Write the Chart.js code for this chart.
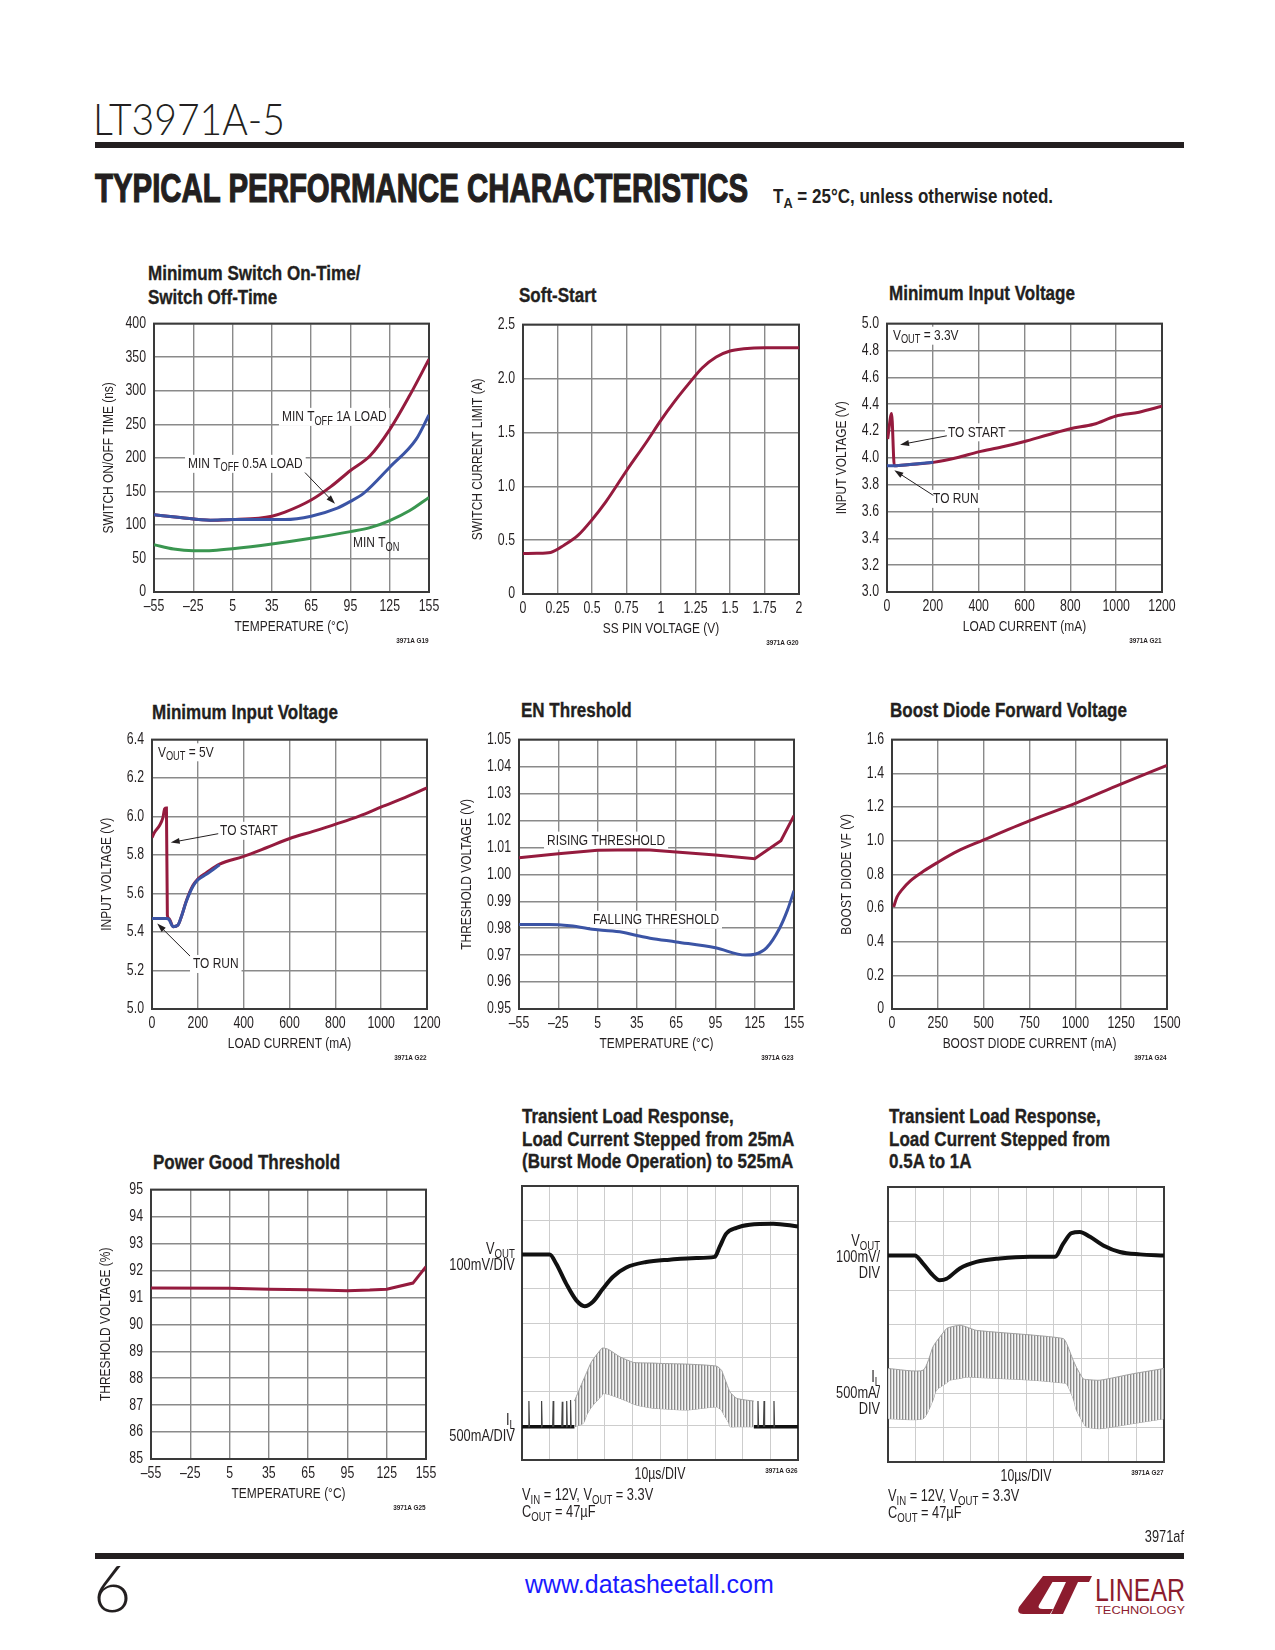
<!DOCTYPE html>
<html>
<head>
<meta charset="utf-8">
<title>LT3971A-5 Typical Performance Characteristics</title>
<script src="https://cdn.jsdelivr.net/npm/chart.js@4.4.1/dist/chart.umd.min.js"></script>
<style>
  body { margin: 0; background: #fff; }
  #page { position: relative; width: 1275px; height: 1650px; overflow: hidden; color: #231f20;
          font-family: 'Liberation Sans', Arial, sans-serif; }
  #page canvas { position: absolute; }
  .abs { position: absolute; white-space: nowrap; }
  .cl { transform-origin: 0 0; }
  .cr { transform-origin: 100% 0; text-align: right; }
  .ttl { font-weight: bold; font-size: 20.5px; line-height: 24px; transform: scaleX(0.83); -webkit-text-stroke: 0.35px #231f20; }
  .stl { font-weight: bold; font-size: 20.5px; line-height: 22.5px; transform: scaleX(0.83); -webkit-text-stroke: 0.35px #231f20; }
  .fid { font-weight: bold; font-size: 8px; line-height: 8px; transform: scaleX(0.8); }
  .lbl { font-size: 16px; line-height: 16px; transform: scaleX(0.8); }
  .note { font-size: 16px; line-height: 17px; transform: scaleX(0.8); }
  sub { font-size: 75%; vertical-align: -0.3em; line-height: 0; }
  .bar { position: absolute; left: 95px; width: 1089px; height: 6px; background: #231f20; }
</style>
</head>
<body>
<div id="page">
  <div class="abs" id="part" style="left:93px; top:94px; font-family: Lato, 'Open Sans', sans-serif; font-weight:300; font-size:44px; line-height:48px;">LT3971A-5</div>
  <div class="bar" style="top:142px;"></div>
  <div class="abs" id="tpc" style="left:95px; top:168px; font-weight:bold; font-size:40px; line-height:40px; transform-origin:0 0; -webkit-text-stroke: 1.2px #231f20;">TYPICAL PERFORMANCE CHARACTERISTICS</div>
  <div class="abs cl" style="left:773px; top:186px; font-weight:bold; font-size:20px; line-height:20px; transform: scaleX(0.85);">T<sub>A</sub> = 25°C, unless otherwise noted.</div>

  <div class="abs ttl cl" style="left:148px; top:261px;">Minimum Switch On-Time/<br>Switch Off-Time</div>
  <div class="abs ttl cl" style="left:519px; top:283px;">Soft-Start</div>
  <div class="abs ttl cl" style="left:889px; top:281px;">Minimum Input Voltage</div>
  <div class="abs ttl cl" style="left:152px; top:700px;">Minimum Input Voltage</div>
  <div class="abs ttl cl" style="left:521px; top:698px;">EN Threshold</div>
  <div class="abs ttl cl" style="left:890px; top:698px;">Boost Diode Forward Voltage</div>
  <div class="abs ttl cl" style="left:153px; top:1150px;">Power Good Threshold</div>
  <div class="abs stl cl" style="left:522px; top:1105px;">Transient Load Response,<br>Load Current Stepped from 25mA<br>(Burst Mode Operation) to 525mA</div>
  <div class="abs stl cl" style="left:889px; top:1105px;">Transient Load Response,<br>Load Current Stepped from<br>0.5A to 1A</div>

  <canvas id="c1"></canvas>
  <canvas id="c2"></canvas>
  <canvas id="c3"></canvas>
  <canvas id="c4"></canvas>
  <canvas id="c5"></canvas>
  <canvas id="c6"></canvas>
  <canvas id="c7"></canvas>
  <canvas id="s1"></canvas>
  <canvas id="s2"></canvas>

  <div class="abs fid cr" style="right:846px; top:637px;">3971A G19</div>
  <div class="abs fid cr" style="right:476px; top:639px;">3971A G20</div>
  <div class="abs fid cr" style="right:113px; top:637px;">3971A G21</div>
  <div class="abs fid cr" style="right:848px; top:1054px;">3971A G22</div>
  <div class="abs fid cr" style="right:481px; top:1054px;">3971A G23</div>
  <div class="abs fid cr" style="right:108px; top:1054px;">3971A G24</div>
  <div class="abs fid cr" style="right:849px; top:1504px;">3971A G25</div>
  <div class="abs fid cr" style="right:477px; top:1467px;">3971A G26</div>
  <div class="abs fid cr" style="right:111px; top:1469px;">3971A G27</div>

  <div class="abs lbl cr" style="right:760px; top:1241px;">V<sub>OUT</sub><br>100mV/DIV</div>
  <div class="abs lbl cr" style="right:760px; top:1412px;">I<sub>L</sub><br>500mA/DIV</div>
  <div class="abs note cl" style="left:522px; top:1486px;">V<sub>IN</sub> = 12V, V<sub>OUT</sub> = 3.3V<br>C<sub>OUT</sub> = 47µF</div>
  <div class="abs lbl cr" style="right:395px; top:1233px;">V<sub>OUT</sub><br>100mV/<br>DIV</div>
  <div class="abs lbl cr" style="right:395px; top:1369px;">I<sub>L</sub><br>500mA/<br>DIV</div>
  <div class="abs note cl" style="left:888px; top:1487px;">V<sub>IN</sub> = 12V, V<sub>OUT</sub> = 3.3V<br>C<sub>OUT</sub> = 47µF</div>

  <div class="abs cr" style="right:91px; top:1529px; font-size:16px; line-height:16px; transform: scaleX(0.8);">3971af</div>
  <div class="bar" style="top:1553px;"></div>
  <div class="abs" style="left:93px; top:1554px; font-family: Lato, 'Open Sans', sans-serif; font-weight:300; font-size:66px; line-height:66px;">6</div>
  <div class="abs" style="left:525px; top:1570px; font-size:25px; line-height:28px; color:#1a1aff;">www.datasheetall.com</div>
  <svg class="abs" style="left:1016px; top:1574px;" width="172" height="44" viewBox="0 0 172 44">
    <path d="M27,2 L40,2 L23,31 Q21,35 27,35 L37,35 L34,40 L7,40 Q0,40 3,33 Z" fill="#8c1c2e"/>
    <path d="M38,2 L76,2 L73,8 L62,8 L47,40 L35,40 L50,8 L35,8 Z" fill="#8c1c2e"/>
    <text x="79" y="27" font-family="'Liberation Sans', sans-serif" font-size="31" fill="#8c1c2e" textLength="90" lengthAdjust="spacingAndGlyphs">LINEAR</text>
    <text x="79" y="40" font-family="'Liberation Sans', sans-serif" font-size="11" fill="#8c1c2e" textLength="90" lengthAdjust="spacingAndGlyphs">TECHNOLOGY</text>
  </svg>
</div>

<script>
// Minimum switch on-time / off-time
const tempTicks = [-55, -25, 5, 35, 65, 95, 125, 155];
const tempLabels = ['–55', '–25', '5', '35', '65', '95', '125', '155'];
const swTimeTicks = [0, 50, 100, 150, 200, 250, 300, 350, 400];
const toff1aTemp = [-55, -35, -12, 5, 25, 35, 45, 65, 80, 95, 110, 125, 140, 155];
const toff1aNs = [115, 111, 107, 108, 110, 113, 119, 137, 157, 181, 203, 242, 292, 347];
const toff05aTemp = [-55, -35, -12, 5, 25, 45, 65, 85, 95, 105, 125, 145, 155];
const toff05aNs = [115, 111, 107, 108, 108, 108, 113, 125, 135, 147, 186, 227, 264];
const tonTemp = [-55, -40, -25, -10, 5, 35, 65, 95, 110, 125, 140, 155];
const tonNs = [70.5, 64, 61.5, 62, 64.5, 71.5, 80, 90, 96, 106.5, 121, 141];

// Soft-start
const ssTicks = [0, 0.25, 0.5, 0.75, 1, 1.25, 1.5, 1.75, 2];
const ssLabels = ['0', '0.25', '0.5', '0.75', '1', '1.25', '1.5', '1.75', '2'];
const ssLimTicks = [0, 0.5, 1, 1.5, 2, 2.5];
const ssLimLabels = ['0', '0.5', '1.0', '1.5', '2.0', '2.5'];
const ssPinV = [0, 0.1, 0.2, 0.3, 0.4, 0.5, 0.6, 0.75, 0.9, 1.0, 1.1, 1.2, 1.3, 1.4, 1.5, 1.6, 1.75, 2.0];
const ssLimitA = [0.375, 0.377, 0.385, 0.455, 0.546, 0.689, 0.855, 1.144, 1.42, 1.614, 1.79, 1.95, 2.10, 2.20, 2.255, 2.275, 2.285, 2.285];

// Minimum input voltage, VOUT = 3.3V
const loadTicks = [0, 200, 400, 600, 800, 1000, 1200];
const vin33Ticks = [3.0, 3.2, 3.4, 3.6, 3.8, 4.0, 4.2, 4.4, 4.6, 4.8, 5.0];
const start33Load = [3, 20, 32, 100, 202, 304, 399, 500, 596, 700, 800, 902, 997, 1100, 1200];
const start33V = [4.14, 4.33, 3.94, 3.95, 3.966, 4.0, 4.044, 4.08, 4.12, 4.17, 4.217, 4.25, 4.31, 4.34, 4.384];
const run33Load = [0, 32, 100, 202];
const run33V = [3.94, 3.94, 3.95, 3.966];

// Minimum input voltage, VOUT = 5V
const vin5Ticks = [5.0, 5.2, 5.4, 5.6, 5.8, 6.0, 6.2, 6.4];
const start5Load = [0, 12, 33, 48, 55, 63, 67, 74, 92, 113, 128, 150, 179, 201, 237, 295, 397, 499, 601, 703, 805, 907, 1001, 1103, 1200];
const start5V = [5.891, 5.92, 5.954, 5.996, 6.04, 6.044, 5.487, 5.47, 5.428, 5.436, 5.479, 5.563, 5.643, 5.677, 5.708, 5.753, 5.792, 5.838, 5.886, 5.923, 5.962, 6.004, 6.05, 6.098, 6.149];
const run5Load = [0, 63, 74, 92, 113, 128, 150, 179, 201, 237, 295];
const run5V = [5.47, 5.47, 5.465, 5.428, 5.436, 5.479, 5.56, 5.638, 5.672, 5.70, 5.75];

// EN threshold
const enTicks = [0.95, 0.96, 0.97, 0.98, 0.99, 1.00, 1.01, 1.02, 1.03, 1.04, 1.05];
const riseTemp = [-55, -25, 5, 35, 45, 65, 95, 125, 145, 155];
const riseV = [1.0061, 1.0076, 1.0089, 1.0091, 1.009, 1.0083, 1.0072, 1.0058, 1.0125, 1.0218];
const fallTemp = [-55, -32, -16, 5, 24, 35, 45, 65, 95, 118, 125, 134, 144, 150, 155];
const fallV = [0.9814, 0.9814, 0.9809, 0.9794, 0.9785, 0.9773, 0.9763, 0.9749, 0.9727, 0.9700, 0.9703, 0.9727, 0.9800, 0.9867, 0.9939];

// Boost diode forward voltage
const diodeTicks = [0, 250, 500, 750, 1000, 1250, 1500];
const vfTicks = [0, 0.2, 0.4, 0.6, 0.8, 1.0, 1.2, 1.4, 1.6];
const vfLabels = ['0', '0.2', '0.4', '0.6', '0.8', '1.0', '1.2', '1.4', '1.6'];
const diodeMa = [9, 27, 55, 100, 173, 245, 355, 500, 755, 1000, 1245, 1500];
const diodeVf = [0.606, 0.664, 0.709, 0.761, 0.819, 0.868, 0.936, 1.004, 1.12, 1.221, 1.334, 1.447];

// Power good threshold
const pgTicks = [85, 86, 87, 88, 89, 90, 91, 92, 93, 94, 95];
const pgTemp = [-55, 5, 35, 65, 95, 112, 125, 145, 155];
const pgPct = [91.35, 91.34, 91.30, 91.28, 91.25, 91.27, 91.30, 91.53, 92.14];

// Scope captures, in divisions (10 x 8 graticule)
const divX = [0, 1, 2, 3, 4, 5, 6, 7, 8, 9, 10];
const divY = [0, 1, 2, 3, 4, 5, 6, 7, 8];
const s1VoutT = [0, 1.0, 1.24, 1.6, 1.97, 2.27, 2.57, 2.93, 3.3, 3.78, 4.5, 5.35, 6.32, 6.98, 7.16, 7.4, 7.77, 8.25, 9.1, 10];
const s1VoutDiv = [6.0, 6.0, 5.73, 5.15, 4.66, 4.49, 4.62, 5.0, 5.35, 5.62, 5.78, 5.85, 5.9, 5.93, 6.22, 6.61, 6.78, 6.87, 6.9, 6.82];
const s1BaseT = [0, 1.9, 8.4, 10];
const s1BaseDiv = [0.97, 0.97, 0.97, 0.97];
const s1EnvT = [1.9, 2.22, 2.34, 2.52, 2.89, 2.95, 3.13, 3.55, 4.03, 4.16, 4.76, 5.0, 5.97, 7.05, 7.23, 7.29, 7.48, 7.54, 7.78, 8.4];
const s1EnvHi = [1.72, 2.33, 2.55, 2.87, 3.26, 3.27, 3.23, 3.01, 2.85, 2.84, 2.83, 2.82, 2.80, 2.74, 2.62, 2.50, 2.09, 1.98, 1.80, 1.72];
const s1EnvLo = [0.97, 1.07, 1.31, 1.55, 1.88, 1.94, 1.92, 1.80, 1.64, 1.60, 1.51, 1.50, 1.46, 1.55, 1.45, 1.36, 1.10, 0.97, 0.97, 0.97];
const s1SpikeT = [0.25, 0.71, 1.13, 1.46, 1.62, 1.76, 8.55, 8.77, 9.13];
const s1SpikePeak = [1.72, 1.72, 1.72, 1.70, 1.72, 1.75, 1.72, 1.72, 1.72];
const s2VoutT = [0, 0.97, 1.27, 1.63, 1.87, 2.12, 2.6, 3.2, 4.05, 5.14, 6.05, 6.35, 6.65, 6.95, 7.32, 7.8, 8.4, 9.13, 10];
const s2VoutDiv = [6.01, 6.01, 5.77, 5.43, 5.29, 5.33, 5.63, 5.82, 5.92, 5.97, 5.97, 6.35, 6.66, 6.69, 6.55, 6.3, 6.11, 6.04, 6.01];
const s2EnvT = [0, 1.27, 1.63, 1.75, 2.12, 2.24, 2.6, 2.84, 3.2, 5.26, 6.35, 6.47, 6.71, 6.83, 7.07, 7.19, 7.68, 8.89, 10];
const s2EnvHi = [2.72, 2.67, 3.35, 3.50, 3.88, 3.92, 3.98, 3.93, 3.83, 3.69, 3.59, 3.45, 2.96, 2.75, 2.42, 2.40, 2.38, 2.57, 2.72];
const s2EnvLo = [1.26, 1.26, 1.80, 2.09, 2.30, 2.38, 2.43, 2.47, 2.46, 2.38, 2.30, 2.28, 1.85, 1.50, 1.15, 1.02, 0.97, 1.12, 1.26];

// ---- styling ----
const SANS = "'Liberation Sans', Arial, sans-serif";
const SQUEEZE = 0.77;   // the datasheet uses a condensed face
const INK = '#231f20';
const RED = '#951b3e';
const BLUE = '#3b54a5';
const GREEN = '#3a9650';

Chart.defaults.font.family = SANS;
Chart.defaults.font.size = 16;
Chart.defaults.color = INK;

function pts(xs, ys) {
    return xs.map((x, i) => ({x: x, y: ys[i]}));
}

function curve(xs, ys, color, extra) {
    return Object.assign({
        data: pts(xs, ys),
        borderColor: color,
        borderWidth: 3,
        pointRadius: 0,
        cubicInterpolationMode: 'monotone',
        fill: false
    }, extra || {});
}

// squeeze all canvas text horizontally
const condensePlugin = {
    id: 'condense',
    beforeInit(chart) {
        const ctx = chart.ctx;
        const fill = ctx.fillText.bind(ctx);
        ctx.fillText = function (text, x, y) {
            ctx.save();
            ctx.translate(x, y);
            ctx.scale(SQUEEZE, 1);
            fill(text, 0, 0);
            ctx.restore();
        };
    }
};

// text with subscripts: parts = [[text, isSub], ...]
function drawParts(ctx, parts, x, y, size, measureOnly) {
    let w = 0;
    parts.forEach(p => {
        ctx.font = (p[1] ? Math.round(size * 0.75) : size) + 'px ' + SANS;
        if (!measureOnly) ctx.fillText(p[0], x + w, y + (p[1] ? size * 0.28 : 0));
        w += ctx.measureText(p[0]).width * SQUEEZE;
    });
    return w;
}

// labels, arrows and the frame of each plot
const notesPlugin = {
    id: 'notes',
    beforeDatasetsDraw(chart, args, opts) {
        const {ctx, chartArea: a, scales: {x, y}} = chart;
        ctx.save();
        (opts.labels || []).forEach(l => {
            if (!l.bg) return;
            const w = drawParts(ctx, l.parts, 0, 0, 15.5, true);
            const px = x.getPixelForValue(l.at[0]), py = y.getPixelForValue(l.at[1]);
            ctx.fillStyle = '#fff';
            ctx.fillRect(px - 3, py - 9, w + 6, 18);
        });
        ctx.strokeStyle = '#3a3a3a';
        ctx.lineWidth = 2;
        ctx.strokeRect(a.left, a.top, a.right - a.left, a.bottom - a.top);
        ctx.restore();
    },
    afterDatasetsDraw(chart, args, opts) {
        const {ctx, scales: {x, y}} = chart;
        ctx.save();
        ctx.strokeStyle = INK;
        ctx.fillStyle = INK;
        ctx.lineWidth = 1;
        (opts.arrows || []).forEach(ar => {
            const x1 = x.getPixelForValue(ar.from[0]), y1 = y.getPixelForValue(ar.from[1]);
            const x2 = x.getPixelForValue(ar.to[0]), y2 = y.getPixelForValue(ar.to[1]);
            const ang = Math.atan2(y2 - y1, x2 - x1);
            ctx.beginPath();
            ctx.moveTo(x1, y1);
            ctx.lineTo(x2 - 7 * Math.cos(ang), y2 - 7 * Math.sin(ang));
            ctx.stroke();
            ctx.beginPath();
            ctx.moveTo(x2, y2);
            ctx.lineTo(x2 - 9 * Math.cos(ang) + 3 * Math.sin(ang), y2 - 9 * Math.sin(ang) - 3 * Math.cos(ang));
            ctx.lineTo(x2 - 9 * Math.cos(ang) - 3 * Math.sin(ang), y2 - 9 * Math.sin(ang) + 3 * Math.cos(ang));
            ctx.closePath();
            ctx.fill();
        });
        ctx.textBaseline = 'middle';
        ctx.textAlign = 'left';
        (opts.labels || []).forEach(l => {
            drawParts(ctx, l.parts, x.getPixelForValue(l.at[0]), y.getPixelForValue(l.at[1]), 15.5, false);
        });
        ctx.restore();
    }
};

function fixedTicks(values) {
    return scale => { scale.ticks = values.map(v => ({value: v})); };
}

// box = plot area on the page
function plotChart(id, box, o) {
    const padL = 70, padT = 12, padR = 30, padB = 56;
    const cv = document.getElementById(id);
    cv.width = (box.r - box.l) + padL + padR;
    cv.height = (box.b - box.t) + padT + padB;
    cv.style.left = (box.l - padL) + 'px';
    cv.style.top = (box.t - padT) + 'px';
    const yW = o.yW, xH = o.xH;
    const gridColor = o.scope ? '#cdcdcd' : '#8a8a8a';
    const gridWidth = o.scope ? 1 : 1.4;
    return new Chart(cv, {
        type: 'line',
        data: {datasets: o.datasets},
        options: {
            responsive: false,
            animation: false,
            events: [],
            layout: {padding: {left: padL - yW, top: padT, right: padR, bottom: padB - xH}},
            plugins: {legend: {display: false}, tooltip: {enabled: false}, notes: o.notes || {}},
            scales: {
                x: {
                    type: 'linear', min: o.x.min, max: o.x.max,
                    afterBuildTicks: fixedTicks(o.x.ticks),
                    afterFit: s => { s.height = xH; },
                    grid: {color: gridColor, lineWidth: gridWidth, drawTicks: false},
                    border: {display: false},
                    ticks: {display: !!o.x.labels, autoSkip: false, maxRotation: 0, padding: 5,
                            callback: (v, i) => o.x.labels ? o.x.labels[i] : ''},
                    title: {display: true, text: o.x.title, font: {size: o.scope ? 16 : 15.5}, padding: 0}
                },
                y: {
                    type: 'linear', min: o.y.min, max: o.y.max,
                    afterBuildTicks: fixedTicks(o.y.ticks),
                    afterFit: s => { s.width = yW; },
                    grid: {color: gridColor, lineWidth: gridWidth, drawTicks: false},
                    border: {display: false},
                    ticks: {display: !!o.y.labels, autoSkip: false, padding: 8,
                            callback: (v, i) => o.y.labels ? o.y.labels[i] : ''},
                    title: {display: !!o.y.title, text: o.y.title || '', font: {size: 15.5}, padding: 0}
                }
            }
        },
        plugins: [condensePlugin, notesPlugin]
    });
}

const fmt1 = a => a.map(v => v.toFixed(1));
const fmt2 = a => a.map(v => v.toFixed(2));
const plain = a => a.map(v => String(v));

// hatch used for the inductor current ripple band
function hatch() {
    const p = document.createElement('canvas');
    p.width = 3; p.height = 2;
    const c = p.getContext('2d');
    c.fillStyle = '#f5f5f5'; c.fillRect(0, 0, 3, 2);
    c.fillStyle = '#8c8c8c'; c.fillRect(0, 0, 1, 2);
    c.fillStyle = '#d2d2d2'; c.fillRect(1, 0, 1, 2);
    return p.getContext('2d').createPattern(p, 'repeat');
}

function spikeSeries(ts, peaks, base) {
    const out = [];
    ts.forEach((t, i) => {
        out.push({x: t - 0.02, y: base}, {x: t, y: peaks[i]}, {x: t + 0.02, y: base}, {x: t + 0.03, y: null});
    });
    return out;
}

const chartDefs = () => {
    const std = {yW: 45 + 9.3, xH: 35 + 9.3};

    plotChart('c1', {l: 154, t: 318, r: 429, b: 592}, Object.assign({}, std, {
        x: {min: -55, max: 155, ticks: tempTicks, labels: tempLabels, title: 'TEMPERATURE (°C)'},
        y: {min: 0, max: 400, ticks: swTimeTicks, labels: plain(swTimeTicks), title: 'SWITCH ON/OFF TIME (ns)'},
        datasets: [
            curve(tonTemp, tonNs, GREEN),
            curve(toff05aTemp, toff05aNs, BLUE),
            curve(toff1aTemp, toff1aNs, RED)
        ],
        notes: {
            labels: [
                {at: [42.7, 261], bg: true, parts: [['MIN T', 0], ['OFF', 1], [' 1A LOAD', 0]]},
                {at: [-29, 191], bg: true, parts: [['MIN T', 0], ['OFF', 1], [' 0.5A LOAD', 0]]},
                {at: [97, 73], bg: false, parts: [['MIN T', 0], ['ON', 1]]}
            ],
            arrows: [{from: [60.3, 178], to: [83.2, 131.4]}]
        }
    }));

    plotChart('c2', {l: 523, t: 319, r: 799, b: 594}, Object.assign({}, std, {
        x: {min: 0, max: 2, ticks: ssTicks, labels: ssLabels, title: 'SS PIN VOLTAGE (V)'},
        y: {min: 0, max: 2.5, ticks: ssLimTicks, labels: ssLimLabels, title: 'SWITCH CURRENT LIMIT (A)'},
        datasets: [curve(ssPinV, ssLimitA, RED)]
    }));

    plotChart('c3', {l: 887, t: 318, r: 1162, b: 592}, Object.assign({}, std, {
        x: {min: 0, max: 1200, ticks: loadTicks, labels: plain(loadTicks), title: 'LOAD CURRENT (mA)'},
        y: {min: 3.0, max: 5.0, ticks: vin33Ticks, labels: fmt1(vin33Ticks), title: 'INPUT VOLTAGE (V)'},
        datasets: [
            curve(run33Load, run33V, BLUE),
            curve(start33Load, start33V, RED)
        ],
        notes: {
            labels: [
                {at: [26, 4.91], bg: true, parts: [['V', 0], ['OUT', 1], [' = 3.3V', 0]]},
                {at: [266, 4.19], bg: true, parts: [['TO START', 0]]},
                {at: [201, 3.694], bg: true, parts: [['TO RUN', 0]]}
            ],
            arrows: [
                {from: [261, 4.164], to: [57, 4.098]},
                {from: [202, 3.72], to: [32, 3.907]}
            ]
        }
    }));

    plotChart('c4', {l: 152, t: 734, r: 427, b: 1009}, Object.assign({}, std, {
        x: {min: 0, max: 1200, ticks: loadTicks, labels: plain(loadTicks), title: 'LOAD CURRENT (mA)'},
        y: {min: 5.0, max: 6.4, ticks: vin5Ticks, labels: fmt1(vin5Ticks), title: 'INPUT VOLTAGE (V)'},
        datasets: [
            curve(run5Load, run5V, BLUE),
            curve(start5Load, start5V, RED)
        ],
        notes: {
            labels: [
                {at: [26, 6.334], bg: true, parts: [['V', 0], ['OUT', 1], [' = 5V', 0]]},
                {at: [297, 5.926], bg: true, parts: [['TO START', 0]]},
                {at: [179, 5.234], bg: true, parts: [['TO RUN', 0]]}
            ],
            arrows: [
                {from: [289, 5.911], to: [81.5, 5.865]},
                {from: [166, 5.275], to: [23, 5.444]}
            ]
        }
    }));

    plotChart('c5', {l: 519, t: 734, r: 794, b: 1009}, Object.assign({}, std, {
        yW: 52 + 9.3,
        x: {min: -55, max: 155, ticks: tempTicks, labels: tempLabels, title: 'TEMPERATURE (°C)'},
        y: {min: 0.95, max: 1.05, ticks: enTicks, labels: fmt2(enTicks), title: 'THRESHOLD VOLTAGE (V)'},
        datasets: [
            curve(fallTemp, fallV, BLUE),
            curve(riseTemp, riseV, RED, {cubicInterpolationMode: 'default', tension: 0})
        ],
        notes: {
            labels: [
                {at: [-33.6, 1.0125], bg: true, parts: [['RISING THRESHOLD', 0]]},
                {at: [1.5, 0.9831], bg: true, parts: [['FALLING THRESHOLD', 0]]}
            ]
        }
    }));

    plotChart('c6', {l: 892, t: 734, r: 1167, b: 1009}, Object.assign({}, std, {
        x: {min: 0, max: 1500, ticks: diodeTicks, labels: plain(diodeTicks), title: 'BOOST DIODE CURRENT (mA)'},
        y: {min: 0, max: 1.6, ticks: vfTicks, labels: vfLabels, title: 'BOOST DIODE VF (V)'},
        datasets: [curve(diodeMa, diodeVf, RED)]
    }));

    plotChart('c7', {l: 151, t: 1184, r: 426, b: 1459}, Object.assign({}, std, {
        x: {min: -55, max: 155, ticks: tempTicks, labels: tempLabels, title: 'TEMPERATURE (°C)'},
        y: {min: 85, max: 95, ticks: pgTicks, labels: plain(pgTicks), title: 'THRESHOLD VOLTAGE (%)'},
        datasets: [curve(pgTemp, pgPct, RED, {cubicInterpolationMode: 'default', tension: 0})]
    }));

    const pat = hatch();
    const scope = (id, box, vT, vD, envT, envHi, envLo, extra) => plotChart(id, box, {
        scope: true, yW: 0, xH: 15 + 9.6,
        x: {min: 0, max: 10, ticks: divX, title: '10µs/DIV'},
        y: {min: 0, max: 8, ticks: divY},
        datasets: [
            curve(envT, envHi, '#a0a0a0', {borderWidth: 1, fill: '+1', backgroundColor: pat, cubicInterpolationMode: 'default', tension: 0.2}),
            curve(envT, envLo, '#a0a0a0', {borderWidth: 1, cubicInterpolationMode: 'default', tension: 0.2})
        ].concat(extra, [curve(vT, vD, '#111', {borderWidth: 4})])
    });

    scope('s1', {l: 522, t: 1186, r: 798, b: 1460}, s1VoutT, s1VoutDiv, s1EnvT, s1EnvHi, s1EnvLo, [
        {data: spikeSeries(s1SpikeT, s1SpikePeak, 0.97), borderColor: '#444', borderWidth: 1.2, pointRadius: 0, tension: 0, spanGaps: false},
        {data: [{x: s1BaseT[0], y: s1BaseDiv[0]}, {x: s1BaseT[1], y: s1BaseDiv[1]}, {x: 5, y: null},
                {x: s1BaseT[2], y: s1BaseDiv[2]}, {x: s1BaseT[3], y: s1BaseDiv[3]}],
         borderColor: '#111', borderWidth: 3.5, pointRadius: 0, spanGaps: false}
    ]);
    scope('s2', {l: 888, t: 1187, r: 1164, b: 1462}, s2VoutT, s2VoutDiv, s2EnvT, s2EnvHi, s2EnvLo, []);
};

chartDefs();

// stretch the section heading and part number to their printed widths
const tpc = document.getElementById('tpc');
tpc.style.transform = 'scaleX(' + (653 / tpc.getBoundingClientRect().width) + ')';
const part = document.getElementById('part');
part.style.transform = 'scaleX(' + (192 / part.getBoundingClientRect().width) + ')';
part.style.transformOrigin = '0 0';
</script>
</body>
</html>
